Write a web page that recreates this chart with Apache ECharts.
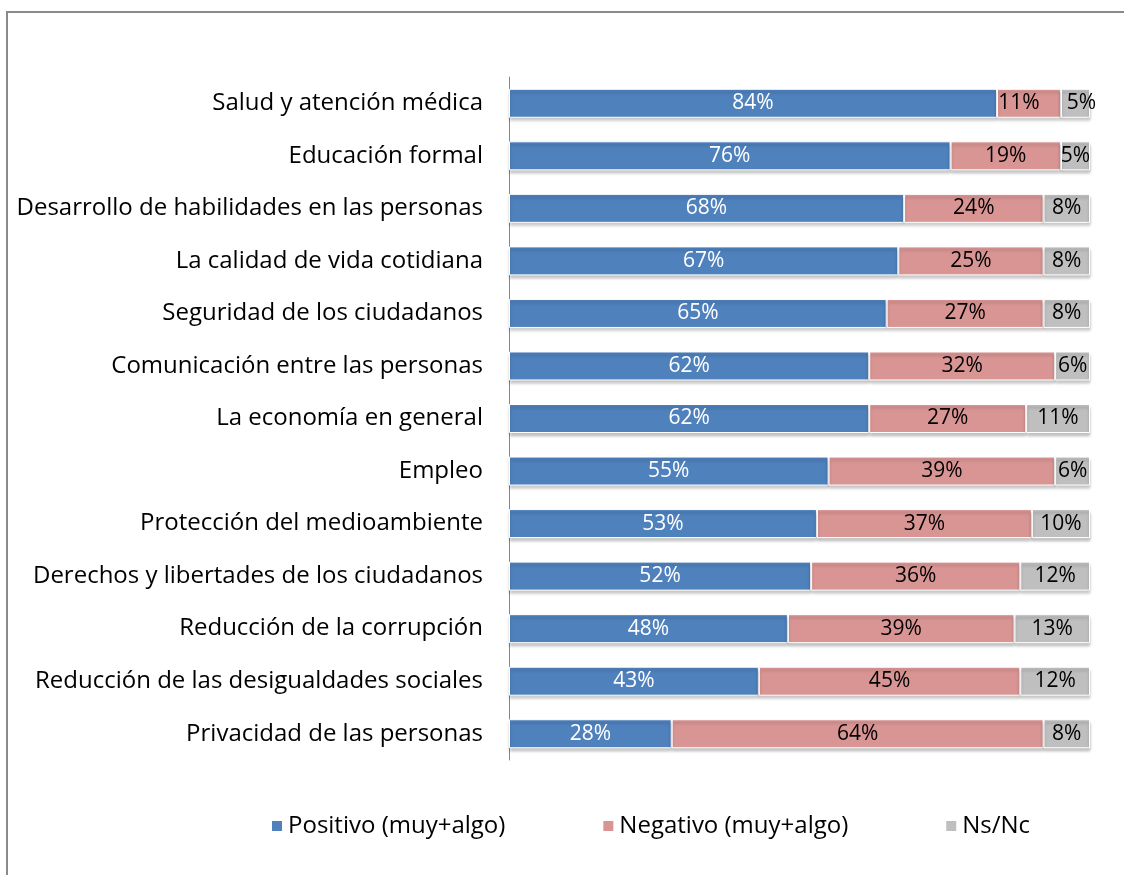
<!DOCTYPE html>
<html>
<head>
<meta charset="utf-8">
<script src="https://cdn.jsdelivr.net/npm/echarts@6/dist/echarts.min.js"></script>
<style>
  html, body { margin: 0; padding: 0; background: #fff; }
  #chart { width: 1124px; height: 875px; }
</style>
</head>
<body>
<div id="chart"></div>
<script>
// categorias, de arriba hacia abajo
var categories = [
  'Salud y atención médica',
  'Educación formal',
  'Desarrollo de habilidades en las personas',
  'La calidad de vida cotidiana',
  'Seguridad de los ciudadanos',
  'Comunicación entre las personas',
  'La economía en general',
  'Empleo',
  'Protección del medioambiente',
  'Derechos y libertades de los ciudadanos',
  'Reducción de la corrupción',
  'Reducción de las desigualdades sociales',
  'Privacidad de las personas'
]
var positivo = [84, 76, 68, 67, 65, 62, 62, 55, 53, 52, 48, 43, 28]
var negativo = [11, 19, 24, 25, 27, 32, 27, 39, 37, 36, 39, 45, 64]
var nsnc = [5, 5, 8, 8, 8, 6, 11, 6, 10, 12, 13, 12, 8]
var seriesNames = ['Positivo (muy+algo)', 'Negativo (muy+algo)', 'Ns/Nc']

var FONT = '"Open Sans"'
var chart = echarts.init(document.getElementById('chart'))

// offsets de etiqueta para la primera fila (la de "Salud"), como en el original
function barSeries(name, data, color, labelColor, firstOffset) {
  return {
    name: name,
    type: 'bar',
    stack: 'total',
    barWidth: 29,
    data: data.map(function (v, i) {
      if (i === 0 && firstOffset) {
        return { value: v, label: { offset: firstOffset } }
      }
      return v
    }),
    itemStyle: {
      color: color,
      borderColor: '#fff',
      borderWidth: 1,
      shadowColor: 'rgba(0,0,0,0.25)',
      shadowBlur: 3,
      shadowOffsetY: 3
    },
    label: {
      show: true,
      position: 'inside',
      color: labelColor,
      fontFamily: FONT,
      fontSize: 21,
      formatter: '{c}%'
    }
  }
}

chart.setOption({
  animation: false,
  graphic: [{
    type: 'rect',
    shape: { x: 7, y: 12, width: 1140, height: 900 },
    style: { fill: 'none', stroke: '#8a8a8a', lineWidth: 2 }
  }],
  grid: {
    left: 509,
    right: 34,
    top: 77,
    bottom: 115
  },
  xAxis: {
    type: 'value',
    min: 0,
    max: 100,
    show: false
  },
  yAxis: {
    type: 'category',
    data: categories,
    inverse: true,
    axisLine: { lineStyle: { color: '#868686', width: 1 } },
    axisTick: { length: 6, lineStyle: { color: '#868686' } },
    axisLabel: {
      color: '#000',
      fontFamily: FONT,
      fontSize: 24,
      margin: 26
    }
  },
  legend: {
    bottom: 32,
    left: 265,
    itemGap: 96,
    itemWidth: 12,
    itemHeight: 12,
    icon: 'rect',
    textStyle: { color: '#000', fontFamily: FONT, fontSize: 24 },
    data: seriesNames
  },
  series: [
    barSeries(seriesNames[0], positivo, '#4f81bd', '#fff'),
    barSeries(seriesNames[1], negativo, '#d99594', '#000', [-10, 0]),
    barSeries(seriesNames[2], nsnc, '#bfbfbf', '#000', [6, 0])
  ]
})
</script>
</body>
</html>
